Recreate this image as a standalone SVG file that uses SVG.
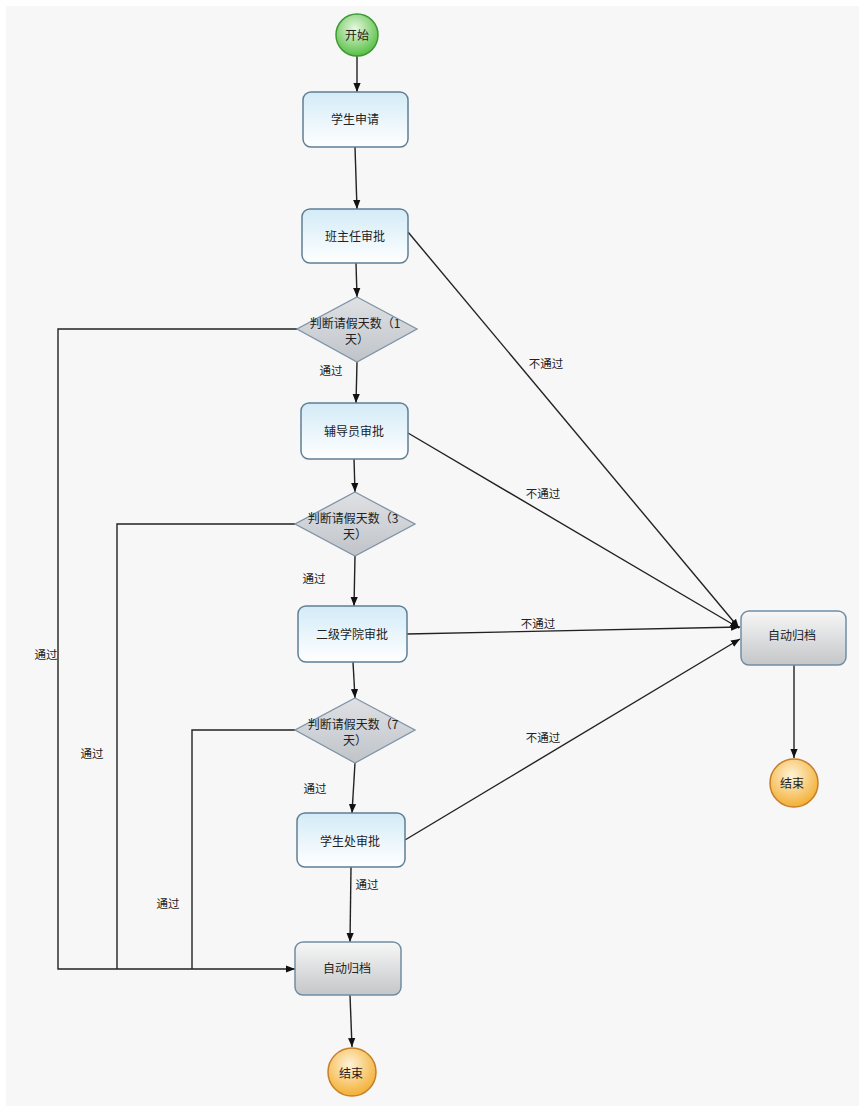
<svg xmlns="http://www.w3.org/2000/svg" width="859" height="1106" viewBox="0 0 859 1106">
<defs>
<linearGradient id="gBox" x1="0" y1="0" x2="0" y2="1"><stop offset="0" stop-color="#d3ebf7"/><stop offset="1" stop-color="#ffffff"/></linearGradient>
<linearGradient id="gArc" x1="0" y1="0" x2="0" y2="1"><stop offset="0" stop-color="#f7f7f7"/><stop offset="1" stop-color="#c4c6c8"/></linearGradient>
<linearGradient id="gDia" x1="0" y1="0" x2="0" y2="1"><stop offset="0" stop-color="#dfe1e4"/><stop offset="1" stop-color="#c0c4c9"/></linearGradient>
<radialGradient id="gStart" cx="0.45" cy="0.35" r="0.7"><stop offset="0" stop-color="#e8f8e0"/><stop offset="1" stop-color="#4cbb3a"/></radialGradient>
<radialGradient id="gEnd" cx="0.45" cy="0.35" r="0.7"><stop offset="0" stop-color="#fff3d8"/><stop offset="1" stop-color="#f2aa28"/></radialGradient>
<marker id="arr" viewBox="0 0 10 10" refX="10" refY="5" markerWidth="9" markerHeight="9" markerUnits="userSpaceOnUse" orient="auto"><path d="M0,1 L10,5 L0,9 z" fill="#111"/></marker>
</defs>
<style>
.bg{fill:#f7f7f7}
.box{fill:url(#gBox);stroke:#5f7f95;stroke-width:1.5}
.arc{fill:url(#gArc);stroke:#6f8ea5;stroke-width:1.5}
.dia{fill:url(#gDia);stroke:#7f93a6;stroke-width:1.3}
.t{font-family:"Noto Sans CJK SC","Noto Sans",sans-serif;font-size:12px;fill:#222;text-anchor:middle;dominant-baseline:central}
.lbl{font-family:"Noto Sans CJK SC","Noto Sans",sans-serif;font-size:11.5px;fill:#222;text-anchor:middle;dominant-baseline:central}
.c{stroke:#222;stroke-width:1.4;fill:none}
</style>
<rect x="0" y="0" width="859" height="1106" fill="#ffffff"/>
<rect class="bg" x="6" y="6" width="853" height="1100"/>

<g id="connectors">
<line class="c" x1="357" y1="55" x2="357" y2="92" marker-end="url(#arr)"/>
<line class="c" x1="355" y1="147" x2="357" y2="209" marker-end="url(#arr)"/>
<line class="c" x1="356" y1="263" x2="357" y2="297" marker-end="url(#arr)"/>
<line class="c" x1="357" y1="362" x2="356" y2="403" marker-end="url(#arr)"/>
<line class="c" x1="354" y1="459" x2="355" y2="492" marker-end="url(#arr)"/>
<line class="c" x1="355" y1="556" x2="354" y2="606" marker-end="url(#arr)"/>
<line class="c" x1="353" y1="662" x2="355" y2="698" marker-end="url(#arr)"/>
<line class="c" x1="355" y1="763" x2="352" y2="813" marker-end="url(#arr)"/>
<line class="c" x1="351" y1="867" x2="350" y2="942" marker-end="url(#arr)"/>
<line class="c" x1="350" y1="995" x2="352" y2="1047" marker-end="url(#arr)"/>
<line class="c" x1="794" y1="665" x2="794" y2="758" marker-end="url(#arr)"/>
<line class="c" x1="408" y1="232" x2="739" y2="628" marker-end="url(#arr)"/>
<line class="c" x1="408" y1="433" x2="739" y2="628" marker-end="url(#arr)"/>
<line class="c" x1="407" y1="634" x2="740" y2="627" marker-end="url(#arr)"/>
<line class="c" x1="405" y1="840" x2="740" y2="639" marker-end="url(#arr)"/>
<polyline class="c" points="297,329 58,329 58,969 295,969" marker-end="url(#arr)"/>
<polyline class="c" points="295,524 117,524 117,969"/>
<polyline class="c" points="295,730 192,730 192,969"/>
<text class="lbl" x="546" y="363">不通过</text>
<text class="lbl" x="543" y="493">不通过</text>
<text class="lbl" x="538" y="623">不通过</text>
<text class="lbl" x="543" y="737">不通过</text>
<text class="lbl" x="46" y="654">通过</text>
<text class="lbl" x="92" y="753">通过</text>
<text class="lbl" x="168" y="903">通过</text>
<text class="lbl" x="331" y="370">通过</text>
<text class="lbl" x="314" y="578">通过</text>
<text class="lbl" x="315" y="788">通过</text>
<text class="lbl" x="367" y="884">通过</text>
</g>

<g id="start"><circle cx="357" cy="35" r="21" fill="url(#gStart)" stroke="#3f9a35" stroke-width="1.5"/><text class="t" x="357" y="34">开始</text></g>
<g id="apply"><rect class="box" x="303" y="92" width="105" height="55" rx="8"/><text class="t" x="355" y="118">学生申请</text></g>
<g id="headteacher"><rect class="box" x="302" y="209" width="106" height="54" rx="8"/><text class="t" x="355" y="235">班主任审批</text></g>
<g id="d1"><polygon class="dia" points="357,297 417,329 357,362 297,329"/><text class="t" x="355" y="322">判断请假天数（1</text><text class="t" x="357" y="338">天）</text></g>
<g id="counselor"><rect class="box" x="301" y="403" width="107" height="56" rx="8"/><text class="t" x="354" y="430">辅导员审批</text></g>
<g id="d2"><polygon class="dia" points="355,492 415,524 355,556 295,524"/><text class="t" x="353" y="517">判断请假天数（3</text><text class="t" x="355" y="533">天）</text></g>
<g id="college"><rect class="box" x="298" y="606" width="109" height="56" rx="8"/><text class="t" x="352" y="633">二级学院审批</text></g>
<g id="d3"><polygon class="dia" points="355,698 415,730 355,763 295,730"/><text class="t" x="353" y="723">判断请假天数（7</text><text class="t" x="355" y="739">天）</text></g>
<g id="office"><rect class="box" x="297" y="813" width="108" height="54" rx="8"/><text class="t" x="350" y="840">学生处审批</text></g>
<g id="archive1"><rect class="arc" x="295" y="942" width="106" height="53" rx="8"/><text class="t" x="347" y="967">自动归档</text></g>
<g id="end1"><circle cx="352" cy="1072" r="24" fill="url(#gEnd)" stroke="#c77f2a" stroke-width="1.5"/><text class="t" x="351" y="1072">结束</text></g>
<g id="archive2"><rect class="arc" x="741" y="611" width="105" height="54" rx="8"/><text class="t" x="792" y="634">自动归档</text></g>
<g id="end2"><circle cx="794" cy="783" r="24" fill="url(#gEnd)" stroke="#c77f2a" stroke-width="1.5"/><text class="t" x="792" y="782">结束</text></g>
</svg>
